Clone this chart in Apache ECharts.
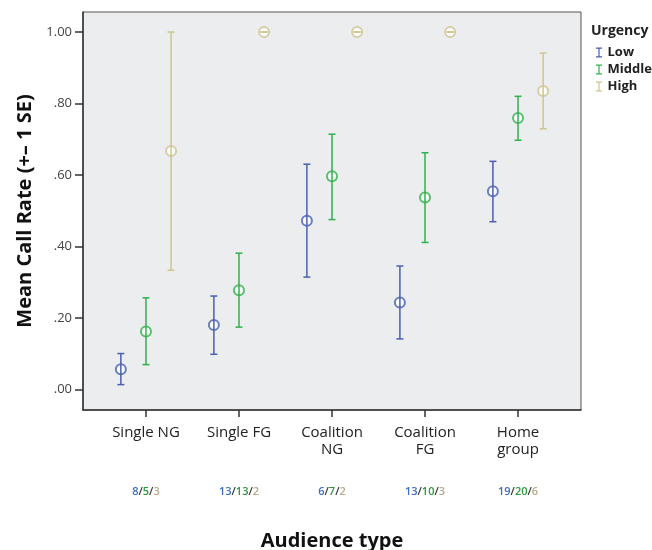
<!DOCTYPE html>
<html>
<head>
<meta charset="utf-8">
<script src="https://cdn.jsdelivr.net/npm/echarts@6/dist/echarts.min.js"></script>
<style>
  html, body { margin: 0; padding: 0; background: #fff; }
  #chart { width: 652px; height: 550px; }
</style>
</head>
<body>
<div id="chart"></div>
<script>
// categories and tick labels
var categories = ["Single NG", "Single FG", "Coalition\nNG", "Coalition\nFG", "Home\ngroup"];
var yTicks = [0, 0.2, 0.4, 0.6, 0.8, 1.0];

// means and +-1 SE bounds per urgency group
var lowMean = [0.056, 0.180, 0.472, 0.243, 0.554];
var lowLo = [0.013, 0.098, 0.314, 0.141, 0.469];
var lowHi = [0.100, 0.261, 0.630, 0.345, 0.638];

var midMean = [0.162, 0.277, 0.596, 0.537, 0.759];
var midLo = [0.069, 0.174, 0.475, 0.411, 0.697];
var midHi = [0.256, 0.381, 0.714, 0.662, 0.820];

var highMean = [0.667, 1.0, 1.0, 1.0, 0.835];
var highLo = [0.333, 1.0, 1.0, 1.0, 0.729];
var highHi = [1.0, 1.0, 1.0, 1.0, 0.941];

// group sizes under each category
var nLow = [8, 13, 6, 13, 19];
var nMid = [5, 13, 7, 10, 20];
var nHigh = [3, 2, 2, 3, 6];

var colors = { Low: "#4a5fb2", Middle: "#2fb24c", High: "#cfc58f" };
var offsets = { Low: -0.27, Middle: 0, High: 0.27 };
var FONT = "Open Sans";

var groups = [
  { name: "Low", mean: lowMean, lo: lowLo, hi: lowHi },
  { name: "Middle", mean: midMean, lo: midLo, hi: midHi },
  { name: "High", mean: highMean, lo: highLo, hi: highHi }
];

var series = [];
groups.forEach(function (g) {
  var c = colors[g.name];
  var off = offsets[g.name];
  //error bars
  series.push({
    name: g.name,
    type: "custom",
    z: 3,
    itemStyle: { color: c },
    data: g.mean.map(function (m, i) { return [i + off, g.lo[i], g.hi[i]]; }),
    renderItem: function (params, api) {
      var x = api.value(0);
      var p1 = api.coord([x, api.value(1)]);
      var p2 = api.coord([x, api.value(2)]);
      var w = 3.5;
      var st = { stroke: c, lineWidth: 1.5 };
      return {
        type: "group",
        children: [
          { type: "line", shape: { x1: p1[0], y1: p1[1], x2: p2[0], y2: p2[1] }, style: st },
          { type: "line", shape: { x1: p1[0] - w, y1: p1[1], x2: p1[0] + w, y2: p1[1] }, style: st },
          { type: "line", shape: { x1: p2[0] - w, y1: p2[1], x2: p2[0] + w, y2: p2[1] }, style: st }
        ]
      };
    }
  });
  //mean points
  series.push({
    name: g.name,
    type: "scatter",
    z: 2,
    symbol: "emptyCircle",
    symbolSize: 10,
    itemStyle: { color: c, borderColor: c, borderWidth: 1.6 },
    data: g.mean.map(function (m, i) { return [i + off, m]; })
  });
});

var chart = echarts.init(document.getElementById("chart"));

var option = {
  backgroundColor: "#fff",
  animation: false,
  textStyle: { fontFamily: FONT },
  title: {
    text: "Urgency",
    left: 586,
    top: 19,
    textStyle: { fontFamily: FONT, fontSize: 14, fontWeight: "bold", color: "#222" }
  },
  legend: {
    orient: "vertical",
    left: 591,
    top: 41,
    itemWidth: 7,
    itemHeight: 10,
    itemGap: 4,
    icon: "path://M0,0H6V1.2H3.6V8.8H6V10H0V8.8H2.4V1.2H0Z",
    textStyle: { fontFamily: FONT, fontSize: 13, fontWeight: "bold", color: "#222" },
    data: groups.map(function (g) {
      return { name: g.name, itemStyle: { color: colors[g.name], borderWidth: 0 } };
    })
  },
  grid: {
    left: 83,
    right: 71,
    top: 12,
    height: 398,
    outerBoundsMode: "none",
    show: true,
    backgroundColor: "#ecedee",
    borderColor: "#555",
    borderWidth: 1
  },
  xAxis: [
    {
      type: "value",
      min: -0.677,
      max: 4.677,
      splitLine: { show: false },
      axisLine: { onZero: false, lineStyle: { color: "#333", width: 1.5 } },
      axisTick: { customValues: [0, 1, 2, 3, 4], length: 7, lineStyle: { color: "#333", width: 1.5 } },
      axisLabel: {
        customValues: [0, 1, 2, 3, 4],
        margin: 14,
        fontFamily: FONT,
        fontSize: 15,
        lineHeight: 17,
        color: "#222",
        verticalAlign: "top",
        formatter: function (v) { return categories[Math.round(v)]; }
      },
      name: "Audience type",
      nameLocation: "middle",
      nameGap: 121,
      nameTextStyle: { fontFamily: FONT, fontSize: 20, fontWeight: "bold", color: "#111" }
    },
    {
      // group sizes row
      type: "value",
      position: "bottom",
      offset: 74,
      min: -0.677,
      max: 4.677,
      splitLine: { show: false },
      axisLine: { show: false, onZero: false },
      axisTick: { show: false },
      axisLabel: {
        customValues: [0, 1, 2, 3, 4],
        margin: 2,
        fontFamily: FONT,
        fontSize: 11,
        formatter: function (v) {
          var i = Math.round(v);
          return "{l|" + nLow[i] + "}{s|/}{m|" + nMid[i] + "}{s|/}{h|" + nHigh[i] + "}";
        },
        rich: {
          l: { color: "#3b6fc4", fontSize: 11, fontWeight: 600, fontFamily: FONT },
          m: { color: "#2a9a3c", fontSize: 11, fontWeight: 600, fontFamily: FONT },
          h: { color: "#b5aa88", fontSize: 11, fontWeight: 600, fontFamily: FONT },
          s: { color: "#333", fontSize: 11, fontWeight: 600, fontFamily: FONT }
        }
      }
    }
  ],
  yAxis: {
    type: "value",
    min: -0.058,
    max: 1.056,
    splitLine: { show: false },
    axisLine: { show: true, onZero: false, lineStyle: { color: "#333", width: 1.5 } },
    axisTick: { show: true, customValues: yTicks, length: 8, lineStyle: { color: "#333", width: 1.5 } },
    axisLabel: {
      customValues: yTicks,
      margin: 11,
      fontFamily: FONT,
      fontSize: 13,
      color: "#444",
      formatter: function (v) {
        return v >= 1 ? "1.00" : v.toFixed(2).slice(1);
      }
    },
    name: "Mean Call Rate (+\u2013 1 SE)",
    nameLocation: "middle",
    nameGap: 39,
    nameTextStyle: { fontFamily: FONT, fontSize: 20, fontWeight: "bold", color: "#111" }
  },
  series: series
};

chart.setOption(option);
</script>
</body>
</html>
